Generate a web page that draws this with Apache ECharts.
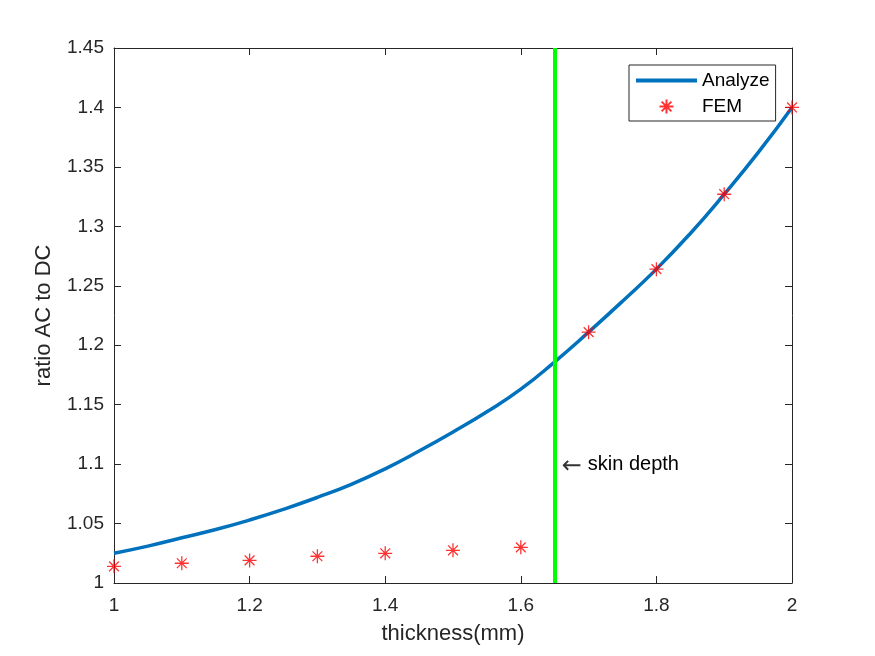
<!DOCTYPE html>
<html><head><meta charset="utf-8">
<script src="https://cdn.jsdelivr.net/npm/echarts@6/dist/echarts.min.js"></script>
<style>html,body{margin:0;padding:0;background:#fff}#c{width:875px;height:656px}</style>
</head><body><div id="c"></div>
<script>
const analyzeX = [1.0,1.05,1.1,1.15,1.2,1.25,1.3,1.35,1.4,1.45,1.5,1.55,1.6,1.65,1.7,1.75,1.8,1.85,1.9,1.95,2.0];
const analyzeY = [1.025,1.031,1.038,1.045,1.053,1.062,1.072,1.083,1.096,1.111,1.127,1.144,1.163,1.186,1.211,1.237,1.264,1.294,1.327,1.362,1.400];
const femX = [1.0,1.1,1.2,1.3,1.4,1.5,1.6,1.7,1.8,1.9,2.0];
const femY = [1.014,1.0166,1.019,1.0225,1.025,1.0275,1.030,1.211,1.264,1.327,1.400];
const skinDepthX = 1.65;
const skinLabelY = 1.1;

const star = 'path://M0,-10L0,10M-10,0L10,0M-7,-7L7,7M-7,7L7,-7';
const fmt = v => String(+v.toFixed(2));
const axisCol = '#262626';
const chart = echarts.init(document.getElementById('c'));
chart.setOption({
  backgroundColor: '#fff',
  animation: false,
  textStyle: {fontFamily: 'Liberation Sans, Arial, sans-serif'},
  grid: {left: 114, right: 83, top: 48, bottom: 73, show: false},
  legend: {
    orient: 'vertical', left: 629, top: 65,
    padding: [6, 6, 5, 7], itemGap: 7,
    borderColor: axisCol, borderWidth: 1, backgroundColor: '#fff',
    itemWidth: 61, itemHeight: 14,
    textStyle: {fontSize: 19, color: '#000'},
    data: [
      {name: 'Analyze', icon: 'path://M0,0H61V4H0Z'},
      {name: 'FEM', icon: star}
    ]
  },
  xAxis: [{
    type: 'value', min: 1, max: 2, interval: 0.2, position: 'bottom',
    name: 'thickness(mm)', nameLocation: 'middle', nameGap: 40,
    nameTextStyle: {fontSize: 22, color: axisCol},
    axisLine: {show: true, lineStyle: {color: axisCol}},
    axisTick: {show: true, inside: true, length: 7, lineStyle: {color: axisCol}},
    axisLabel: {fontSize: 19, color: axisCol, margin: 13, formatter: fmt},
    splitLine: {show: false}
  }, {
    type: 'value', min: 1, max: 2, interval: 0.2, position: 'top',
    axisLine: {show: true, lineStyle: {color: axisCol}},
    axisTick: {show: true, inside: true, length: 7, lineStyle: {color: axisCol}},
    axisLabel: {show: false}, splitLine: {show: false}
  }],
  yAxis: [{
    type: 'value', min: 1, max: 1.45, interval: 0.05, position: 'left',
    name: 'ratio AC to DC', nameLocation: 'middle', nameGap: 59, nameRotate: 90,
    nameTextStyle: {fontSize: 22, color: axisCol},
    axisLine: {show: true, lineStyle: {color: axisCol}},
    axisTick: {show: true, inside: true, length: 7, lineStyle: {color: axisCol}},
    axisLabel: {fontSize: 19, color: axisCol, margin: 10, formatter: fmt},
    splitLine: {show: false}
  }, {
    type: 'value', min: 1, max: 1.45, interval: 0.05, position: 'right',
    axisLine: {show: true, lineStyle: {color: axisCol}},
    axisTick: {show: true, inside: true, length: 7, lineStyle: {color: axisCol}},
    axisLabel: {show: false}, splitLine: {show: false}
  }],
  series: [{
    name: 'Analyze', type: 'line', smooth: true, showSymbol: false,
    color: '#0072BD',
    lineStyle: {color: '#0072BD', width: 3.5},
    data: analyzeX.map((x, i) => [x, analyzeY[i]]),
    z: 3,
    markLine: {
      silent: true, symbol: 'none',
      lineStyle: {color: '#00FF00', width: 4, type: 'solid'},
      label: {show: false},
      data: [{xAxis: skinDepthX}]
    },
    markPoint: {
      symbol: 'circle', symbolSize: 0,
      label: {
        show: true, position: 'right', distance: 7,
        formatter: '{a|←}{b|skin depth}',
        rich: {
          a: {fontFamily: 'DejaVu Sans', fontSize: 24, color: '#333', padding: [6, 0, 0, 0]},
          b: {fontSize: 20, color: '#000', padding: [0, 0, 0, 6], fontFamily: 'Liberation Sans, Arial, sans-serif'}
        }
      },
      data: [{coord: [skinDepthX, skinLabelY]}]
    }
  }, {
    name: 'FEM', type: 'scatter', symbol: star, symbolSize: 14,
    color: '#FF0000',
    itemStyle: {color: 'none', borderColor: '#FF0000', borderWidth: 1.3},
    data: femX.map((x, i) => [x, femY[i]]),
    z: 4
  }]
});
</script></body></html>
